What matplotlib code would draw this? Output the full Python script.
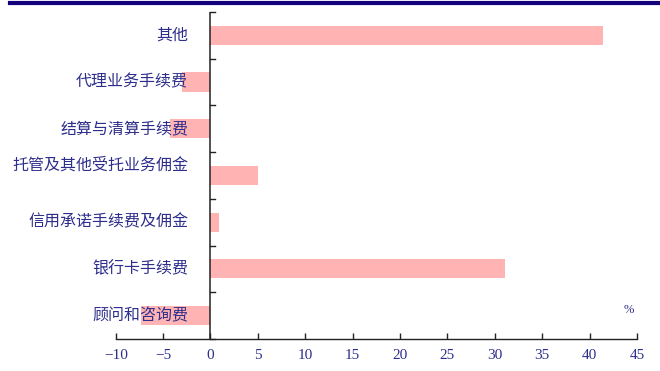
import matplotlib.pyplot as plt
from matplotlib.lines import Line2D

plt.rcParams['font.family'] = ['Noto Sans CJK SC', 'DejaVu Sans']

categories = ['其他', '代理业务手续费', '结算与清算手续费', '托管及其他受托业务佣金',
              '信用承诺手续费及佣金', '银行卡手续费', '顾问和咨询费']
values = [41.4, -3.0, -4.3, 5.0, 0.95, 31.1, -7.3]
xticks = [-10, -5, 0, 5, 10, 15, 20, 25, 30, 35, 40, 45]

navy = '#2e2e8c'
pink = '#ffb3b3'

fig = plt.figure(figsize=(6.6, 3.71), dpi=100)
ax = fig.add_axes([0.1753, 0.0863, 0.7898, 0.8814])

pos = list(range(len(categories)))
ax.barh(pos, values, height=0.41, color=pink, zorder=2)
ax.set_ylim(len(categories) - 0.5, -0.5)
ax.set_xlim(-10, 45)

# category labels, drawn over bars
for i, name in enumerate(categories):
    dy = -0.23 if name.startswith('托管') else 0
    ax.text(-2.35, i + dy, name, ha='right', va='center', fontsize=11.5,
            color=navy, zorder=4, clip_on=False)

# y axis at zero with ticks on slot boundaries
ax.axvline(0, color='#222222', lw=1.1, zorder=3)
for b in [i - 0.5 for i in range(len(categories) + 1)]:
    ax.plot([0, 0.45], [b, b], color='#222222', lw=1, zorder=3, clip_on=False)

ax.set_yticks([])
ax.set_xticks(xticks)
ax.set_xticklabels([str(t).replace('-', '−') for t in xticks],
                   fontfamily='Liberation Serif', fontsize=11, color=navy)
ax.tick_params(axis='x', direction='in', length=4, width=1, color='#222222', pad=7)
for s in ['left', 'top', 'right']:
    ax.spines[s].set_visible(False)
ax.spines['bottom'].set_color('#222222')
ax.spines['bottom'].set_linewidth(1)

ax.text(0.985, 0.089, '%', transform=ax.transAxes, ha='center', va='center',
        fontsize=9, color=navy, fontfamily='Liberation Serif')

# top rule
fig.add_artist(Line2D([10 / 660, 1], [1 - 2.5 / 371, 1 - 2.5 / 371],
                      color='#14007a', lw=3))

fig.savefig('out.png', dpi=100)
